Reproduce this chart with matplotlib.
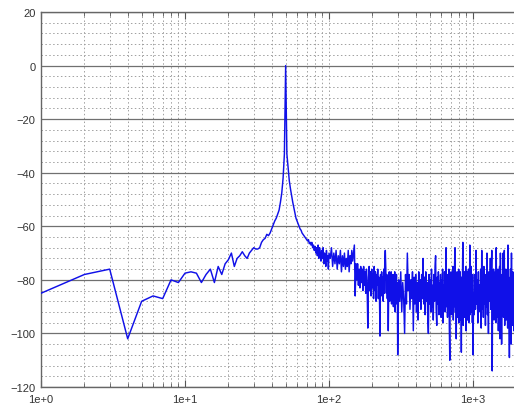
import numpy as np
import matplotlib
matplotlib.use("Agg")
import matplotlib.pyplot as plt
from matplotlib.ticker import FixedLocator, FixedFormatter, NullFormatter

# ---------------- data ----------------
# 1 Hz bins, 1..100 Hz (magnitude in dB)
low_freq = list(range(1, 101))
low_db = [
    -85, -78, -76, -102, -88, -86, -87, -80, -81, -77.5,
    -77, -77.5, -81, -78, -76, -81, -75, -78, -74, -72.5,
    -70, -75, -72, -71, -69.5, -71, -72, -70, -69, -68,
    -68.5, -68.5, -68, -66, -65, -64.5, -63, -63.5, -62.5, -61,
    -59.5, -58, -57, -55.5, -54, -51, -47.5, -42, -33, 0,
    -33, -38, -43, -46, -48.5, -51, -53, -55, -57, -58,
    -59, -60, -61, -61.5, -62.5, -63, -63.5, -64, -64.5, -65,
    -65.5, -65, -66.5, -66, -67, -66, -68, -67, -69, -67.5,
    -70, -68, -71, -67, -72, -68, -70, -73, -69, -72,
    -68, -74, -70, -71, -75, -69, -73, -71, -76, -70,
]

# 102..300 Hz, 2 Hz steps
mid_start, mid_step = 102, 2
mid_db = [
    -72, -68, -75, -70, -74, -69, -76, -71, -74, -69,
    -77, -71, -75, -70, -76, -72, -75, -69, -77, -71,
    -74, -69, -73, -70, -67, -86, -74, -80, -74, -82,
    -76, -83, -75, -81, -76, -84, -75, -82, -77, -85,
    -76, -83, -98, -79, -75, -84, -77, -86, -76, -83,
    -78, -87, -75, -84, -77, -88, -78, -82, -76, -87,
    -79, -85, -101, -78, -86, -77, -84, -79, -88, -76,
    -85, -73, -69, -76, -85, -78, -87, -79, -99, -80,
    -77, -88, -79, -86, -77, -89, -80, -85, -78, -90,
    -79, -86, -77, -92, -80, -85, -78, -89, -81, -108,
]

# 305..1000 Hz, 5 Hz steps
high_start, high_step = 305, 5
high_db = [
    -80, -88, -77, -92, -81, -87, -100, -78, -89, -70,
    -84, -78, -91, -80, -87, -77, -99, -79, -89, -78,
    -92, -81, -95, -77, -88, -80, -91, -78, -87, -72,
    -89, -79, -93, -77, -88, -81, -94, -100, -78, -89,
    -80, -92, -76, -90, -82, -95, -78, -88, -75, -71,
    -91, -97, -79, -89, -77, -93, -81, -87, -78, -94,
    -80, -90, -76, -96, -82, -89, -77, -92, -79, -68,
    -90, -78, -94, -81, -88, -76, -98, -110, -79, -91,
    -77, -93, -82, -88, -75, -95, -80, -90, -74, -68,
    -92, -79, -102, -83, -77, -94, -81, -89, -76, -96,
    -80, -91, -77, -95, -82, -107, -79, -90, -76, -66,
    -97, -81, -91, -77, -94, -80, -89, -75, -99, -82,
    -90, -77, -95, -81, -88, -76, -96, -80, -91, -67,
    -93, -79, -89, -75, -85, -92, -82, -96, -78, -108,
]

# 1010..1930 Hz, 10 Hz steps
top_start, top_step = 1010, 10
top_db = [
    -85, -93, -78, -91, -69, -89, -80, -96, -77, -92,
    -82, -90, -76, -98, -69, -91, -79, -94, -75, -89,
    -81, -97, -78, -90, -70, -93, -80, -100, -77, -88,
    -82, -72, -91, -79, -69, -114, -78, -92, -76, -95,
    -81, -90, -77, -96, -68, -91, -80, -94, -76, -99,
    -82, -89, -75, -102, -70, -92, -79, -104, -78, -91,
    -83, -70, -94, -78, -69, -97, -80, -91, -76, -95,
    -82, -90, -77, -98, -67, -92, -79, -95, -109, -81,
    -89, -76, -96, -104, -70, -93, -79, -97, -77, -91,
    -82, -99, -78,
]

y_ticks = [20, 0, -20, -40, -60, -80, -100, -120]
x_ticks = [1, 10, 100, 1000]
x_tick_labels = ["1e+0", "1e+1", "1e+2", "1e+3"]

# ---------------- assemble ----------------
freq = np.concatenate([
    np.array(low_freq, float),
    mid_start + mid_step * np.arange(len(mid_db)),
    high_start + high_step * np.arange(len(high_db)),
    top_start + top_step * np.arange(len(top_db)),
])
mag = np.concatenate([low_db, mid_db, high_db, top_db]).astype(float)

# ---------------- plot ----------------
plt.rcParams['font.family'] = ['Liberation Sans', 'DejaVu Sans']
fig = plt.figure(figsize=(5.14, 4.10), dpi=100)
ax = fig.add_axes([41/514, 1 - 388/410, 1 - 41/514, (388 - 13)/410])

ax.plot(freq, mag, color='#1010e8', lw=1.05, zorder=3)

ax.set_xscale('log')
ax.set_xlim(1, 10 ** ((514 - 41) / 144))
ax.set_ylim(-120, 20)

ax.xaxis.set_major_locator(FixedLocator(x_ticks))
ax.xaxis.set_major_formatter(FixedFormatter(x_tick_labels))
minor_x = [m * 10 ** d for d in range(0, 4) for m in range(2, 10)]
ax.xaxis.set_minor_locator(FixedLocator(minor_x))
ax.xaxis.set_minor_formatter(NullFormatter())

ax.yaxis.set_major_locator(FixedLocator(y_ticks))
ax.yaxis.set_minor_locator(FixedLocator(np.arange(-120, 21, 4)))

ax.grid(True, which='major', axis='y', color='#707070', lw=0.9, ls='-')
ax.grid(True, which='minor', axis='y', color='#a0a0a0', lw=0.7, ls=(0, (1.5, 2.5)))
ax.grid(True, which='both', axis='x', color='#a0a0a0', lw=0.7, ls=(0, (1.5, 2.5)))
ax.set_axisbelow(True)

ax.tick_params(axis='both', which='both', direction='in', colors='#555555',
               labelcolor='#333333', labelsize=8)
ax.tick_params(axis='x', which='major', length=5, top=True, pad=5)
ax.tick_params(axis='x', which='minor', length=3, top=True)
ax.tick_params(axis='y', which='major', length=0, pad=4)
ax.tick_params(axis='y', which='minor', length=0)

for s in ['top', 'left', 'bottom']:
    ax.spines[s].set_color('#666666')
    ax.spines[s].set_linewidth(1.0)
ax.spines['right'].set_visible(False)

fig.savefig('out.png', dpi=100)
